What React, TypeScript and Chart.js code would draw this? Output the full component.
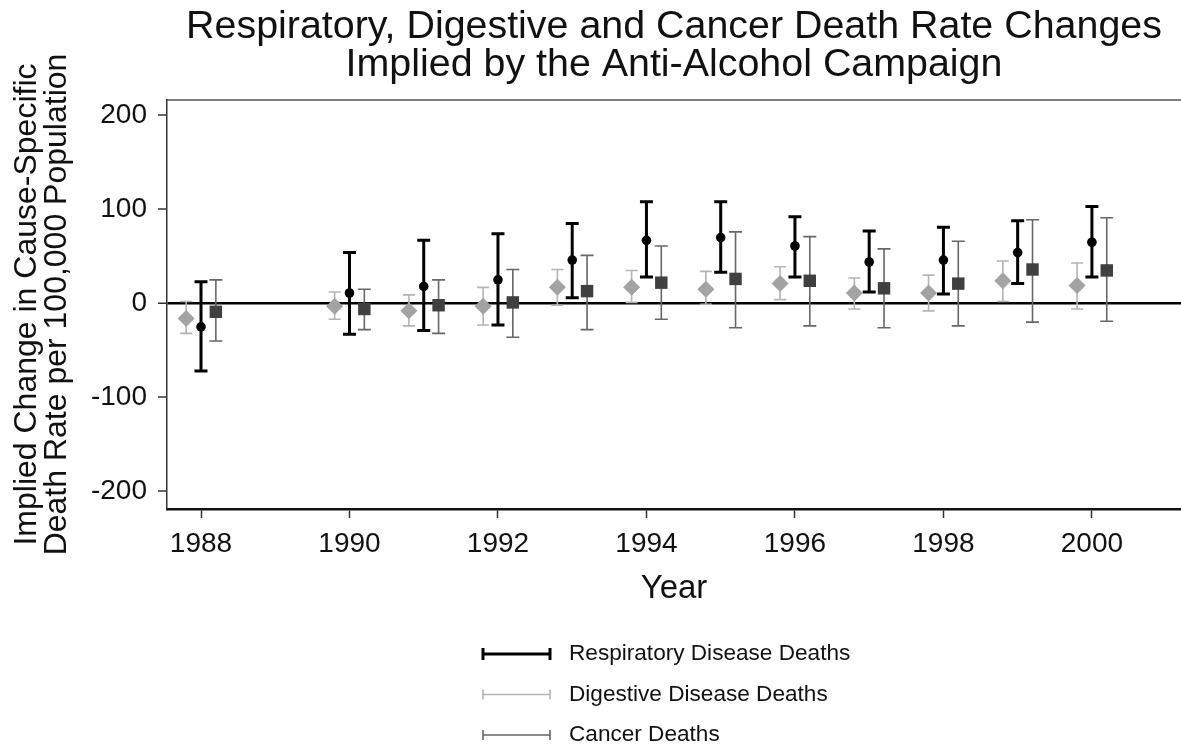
import React, { useEffect, useRef } from "react";
import { Chart, registerables } from "chart.js";

Chart.register(...registerables);

const TITLE_LINES = [
  "Respiratory, Digestive and Cancer Death Rate Changes",
  "Implied by the Anti-Alcohol Campaign",
];
const Y_TITLE = ["Implied Change in Cause-Specific", "Death Rate per 100,000 Population"];
const X_TITLE = "Year";

const years = [1988, 1990, 1991, 1992, 1993, 1994, 1995, 1996, 1997, 1998, 1999, 2000];

const respEst = [-25, 11, 18, 25, 46, 67, 70, 61, 44, 46, 54, 65];
const respLo = [-72, -33, -29, -23, 6, 28, 33, 28, 12, 10, 21, 28];
const respHi = [23, 54, 67, 74, 85, 108, 108, 92, 77, 81, 88, 103];

const digEst = [-16, -3, -8, -3, 17, 17, 15, 21, 11, 11, 24, 19];
const digLo = [-32, -17, -24, -23, -2, 1, -1, 4, -6, -8, 2, -6];
const digHi = [2, 12, 9, 17, 36, 35, 34, 39, 27, 30, 45, 43];

const canEst = [-9, -6, -2, 1, 13, 22, 26, 24, 16, 21, 36, 35];
const canLo = [-40, -28, -32, -36, -28, -17, -26, -24, -26, -24, -20, -19];
const canHi = [25, 15, 25, 36, 51, 61, 76, 71, 58, 66, 89, 91];

const xTicks = [1988, 1990, 1992, 1994, 1996, 1998, 2000];
const yTicks = [-200, -100, 0, 100, 200];

const LEGEND_LABELS = ["Respiratory Disease Deaths", "Digestive Disease Deaths", "Cancer Deaths"];

const DODGE = 0.2;
const FONT = "'Liberation Sans', Arial, sans-serif";

type Series = {
  label: string;
  est: number[];
  lo: number[];
  hi: number[];
  offset: number;
  pointStyle: string;
  radius: number;
  markerColor: string;
  barColor: string;
  barWidth: number;
  capHalf: number;
};

const series: Series[] = [
  {
    label: LEGEND_LABELS[1],
    est: digEst,
    lo: digLo,
    hi: digHi,
    offset: -DODGE,
    pointStyle: "rectRot",
    radius: 8.5,
    markerColor: "#a3a3a3",
    barColor: "#b4b4b4",
    barWidth: 1.6,
    capHalf: 6,
  },
  {
    label: LEGEND_LABELS[0],
    est: respEst,
    lo: respLo,
    hi: respHi,
    offset: 0,
    pointStyle: "circle",
    radius: 4.8,
    markerColor: "#000000",
    barColor: "#000000",
    barWidth: 3,
    capHalf: 6.5,
  },
  {
    label: LEGEND_LABELS[2],
    est: canEst,
    lo: canLo,
    hi: canHi,
    offset: DODGE,
    pointStyle: "rect",
    radius: 8.8,
    markerColor: "#404040",
    barColor: "#676767",
    barWidth: 1.6,
    capHalf: 6.5,
  },
];

const legendOrder = [1, 0, 2];

const errorBarPlugin = {
  id: "errorBars",
  beforeDatasetsDraw(chart: any) {
    const { ctx, scales, chartArea } = chart;
    const xs = scales.x;
    const ys = scales.y;
    ctx.save();
    ctx.beginPath();
    ctx.rect(chartArea.left, chartArea.top, chartArea.right - chartArea.left, chartArea.bottom - chartArea.top);
    ctx.clip();
    series.forEach((s) => {
      ctx.strokeStyle = s.barColor;
      ctx.lineWidth = s.barWidth;
      ctx.lineCap = "butt";
      years.forEach((yr, i) => {
        const px = xs.getPixelForValue(yr + s.offset);
        const pLo = ys.getPixelForValue(s.lo[i]);
        const pHi = ys.getPixelForValue(s.hi[i]);
        ctx.beginPath();
        ctx.moveTo(px, pLo);
        ctx.lineTo(px, pHi);
        ctx.moveTo(px - s.capHalf, pLo);
        ctx.lineTo(px + s.capHalf, pLo);
        ctx.moveTo(px - s.capHalf, pHi);
        ctx.lineTo(px + s.capHalf, pHi);
        ctx.stroke();
      });
    });
    ctx.restore();
  },
  afterDraw(chart: any) {
    const { ctx, chartArea } = chart;
    ctx.save();
    ctx.strokeStyle = "#555555";
    ctx.lineWidth = 1.5;
    ctx.beginPath();
    ctx.moveTo(chartArea.left, chartArea.top);
    ctx.lineTo(chartArea.right, chartArea.top);
    ctx.stroke();

    const symLeft = 483;
    const symRight = 550;
    const textX = 569;
    const rowY = [654, 694.5, 735];
    ctx.font = `22.6px ${FONT}`;
    ctx.textBaseline = "middle";
    ctx.textAlign = "left";
    legendOrder.forEach((si, r) => {
      const s = series[si];
      const y = rowY[r];
      const half = s.barWidth > 2 ? 6 : 5;
      ctx.strokeStyle = s.barColor;
      ctx.lineWidth = s.barWidth;
      ctx.beginPath();
      ctx.moveTo(symLeft, y);
      ctx.lineTo(symRight, y);
      ctx.moveTo(symLeft, y - half);
      ctx.lineTo(symLeft, y + half);
      ctx.moveTo(symRight, y - half);
      ctx.lineTo(symRight, y + half);
      ctx.stroke();
      ctx.fillStyle = "#111111";
      ctx.fillText(s.label, textX, y);
    });
    ctx.restore();
  },
};

export default function App() {
  const ref = useRef<HTMLCanvasElement | null>(null);

  useEffect(() => {
    if (!ref.current) return;
    const chart = new Chart(ref.current, {
      type: "scatter",
      data: {
        datasets: series.map((s) => ({
          label: s.label,
          data: years.map((yr, i) => ({ x: yr + s.offset, y: s.est[i] })),
          pointStyle: s.pointStyle as any,
          pointRadius: s.radius,
          pointBackgroundColor: s.markerColor,
          pointBorderColor: s.markerColor,
          pointBorderWidth: 0,
          showLine: false,
        })),
      },
      plugins: [errorBarPlugin],
      options: {
        animation: false,
        responsive: true,
        maintainAspectRatio: false,
        layout: { autoPadding: false, padding: { top: 0, left: 0, right: 0, bottom: 139 } },
        plugins: {
          legend: { display: false },
          tooltip: { enabled: false },
          title: {
            display: true,
            text: TITLE_LINES,
            fullSize: false,
            color: "#111111",
            font: { family: FONT, size: 39.4, weight: "normal", lineHeight: 0.965 },
            padding: { top: 8, bottom: 16 },
          },
        },
        scales: {
          x: {
            type: "linear",
            min: 1987.542,
            max: 2001.2,
            afterBuildTicks: (scale: any) => {
              scale.ticks = xTicks.map((v) => ({ value: v }));
            },
            afterFit: (scale: any) => {
              scale.height = 100;
              scale.paddingLeft = 0;
              scale.paddingRight = 0;
            },
            ticks: {
              color: "#111111",
              font: { family: FONT, size: 28 },
              padding: 9,
              maxRotation: 0,
              autoSkip: false,
              callback: (v: any) => String(v),
            },
            grid: {
              drawOnChartArea: false,
              drawTicks: true,
              tickLength: 9,
              tickColor: "#333333",
              tickWidth: 1.5,
            },
            border: { display: true, color: "#111111", width: 2.5 },
            title: {
              display: true,
              text: X_TITLE,
              color: "#111111",
              font: { family: FONT, size: 33 },
              padding: { top: 0, bottom: 0 },
            },
          },
          y: {
            type: "linear",
            min: -218.8,
            max: 216.3,
            afterBuildTicks: (scale: any) => {
              scale.ticks = yTicks.map((v) => ({ value: v }));
            },
            afterFit: (scale: any) => {
              scale.width = 167;
            },
            ticks: {
              color: "#111111",
              font: { family: FONT, size: 28 },
              padding: 11,
              autoSkip: false,
              callback: (v: any) => String(v),
            },
            grid: {
              drawOnChartArea: true,
              drawTicks: true,
              tickLength: 9,
              tickColor: "#333333",
              tickWidth: 1.5,
              color: (c: any) => (c.tick && c.tick.value === 0 ? "#000000" : "rgba(0,0,0,0)"),
              lineWidth: (c: any) => (c.tick && c.tick.value === 0 ? 2.5 : 0),
            },
            border: { display: true, color: "#333333", width: 1.5 },
            title: {
              display: true,
              text: Y_TITLE,
              color: "#111111",
              font: { family: FONT, size: 32, lineHeight: 0.95 },
              padding: { top: 12, bottom: 0 },
            },
          },
        },
      } as any,
    });
    return () => chart.destroy();
  }, []);

  return (
    <div style={{ position: "absolute", left: 0, top: 0, width: 1181, height: 748, background: "#ffffff" }}>
      <canvas ref={ref} />
    </div>
  );
}
